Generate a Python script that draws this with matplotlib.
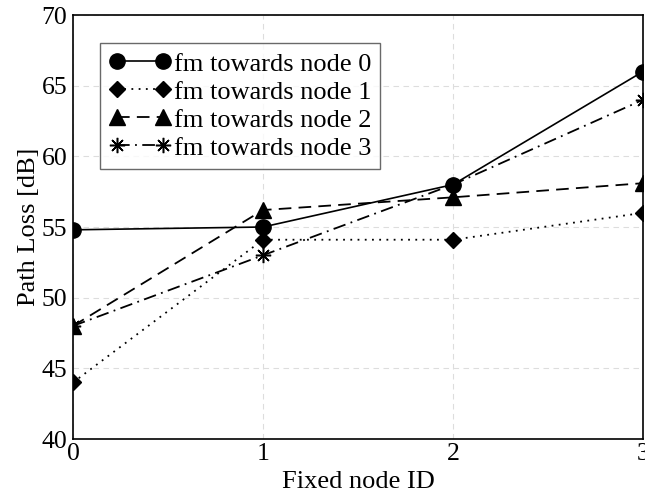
import matplotlib
matplotlib.use('Agg')
import matplotlib.pyplot as plt
import numpy as np

# fixed node IDs on x axis
node_ids = [0, 1, 2, 3]
towards_node0 = [54.8, 55, 58, 66]
towards_node1 = [44, 54.1, 54.1, 56]
towards_node2 = [48, 56.2, 57.1, 58.1]
towards_node3 = [48, 53, 58, 64]
labels = ['fm towards node 0', 'fm towards node 1', 'fm towards node 2', 'fm towards node 3']

plt.rcParams['font.family'] = ['Liberation Serif', 'DejaVu Serif']

fig = plt.figure(figsize=(6.45, 4.92), dpi=100)
ax = fig.add_axes([73/645, 53/492, 570/645, 424/492])

ax.plot(node_ids, towards_node0, 'k-', marker='o', markersize=11, lw=1.2, label=labels[0])
ax.plot(node_ids, towards_node1, 'k', linestyle=(0, (1, 3)), marker='D', markersize=8, lw=1.3, label=labels[1])
ax.plot(node_ids, towards_node2, 'k', linestyle=(0, (7, 4)), marker='^', markersize=11, lw=1.3, label=labels[2])
ax.plot(node_ids, towards_node3, 'k', linestyle=(0, (7, 3, 1, 3)), marker=(8, 2, 0), markersize=11,
        markeredgewidth=1.1, lw=1.3, label=labels[3])

ax.set_xlim(0, 3)
ax.set_ylim(40, 70)
ax.set_xticks([0, 1, 2, 3])
ax.set_yticks(np.arange(40, 71, 5))
ax.tick_params(labelsize=18.5, direction='in', length=0)
ax.tick_params(axis='x', pad=3)
ax.tick_params(axis='y', pad=4)
ax.grid(True, linestyle=(0, (5, 4)), color='#dddddd', lw=0.8)
for s in ax.spines.values():
    s.set_linewidth(1.2)

ax.set_xlabel('Fixed node ID', fontsize=19, labelpad=4)
ax.set_ylabel('Path Loss [dB]', fontsize=19, labelpad=1)

leg = ax.legend(loc='upper left', bbox_to_anchor=(0.047, 0.934), fontsize=19, frameon=True,
                fancybox=False, edgecolor='#444444', numpoints=2, handlelength=2.35,
                handletextpad=0.1, borderpad=0.35, labelspacing=0.17, borderaxespad=0)
leg.get_frame().set_linewidth(1.0)

fig.savefig('out.png', dpi=100)
